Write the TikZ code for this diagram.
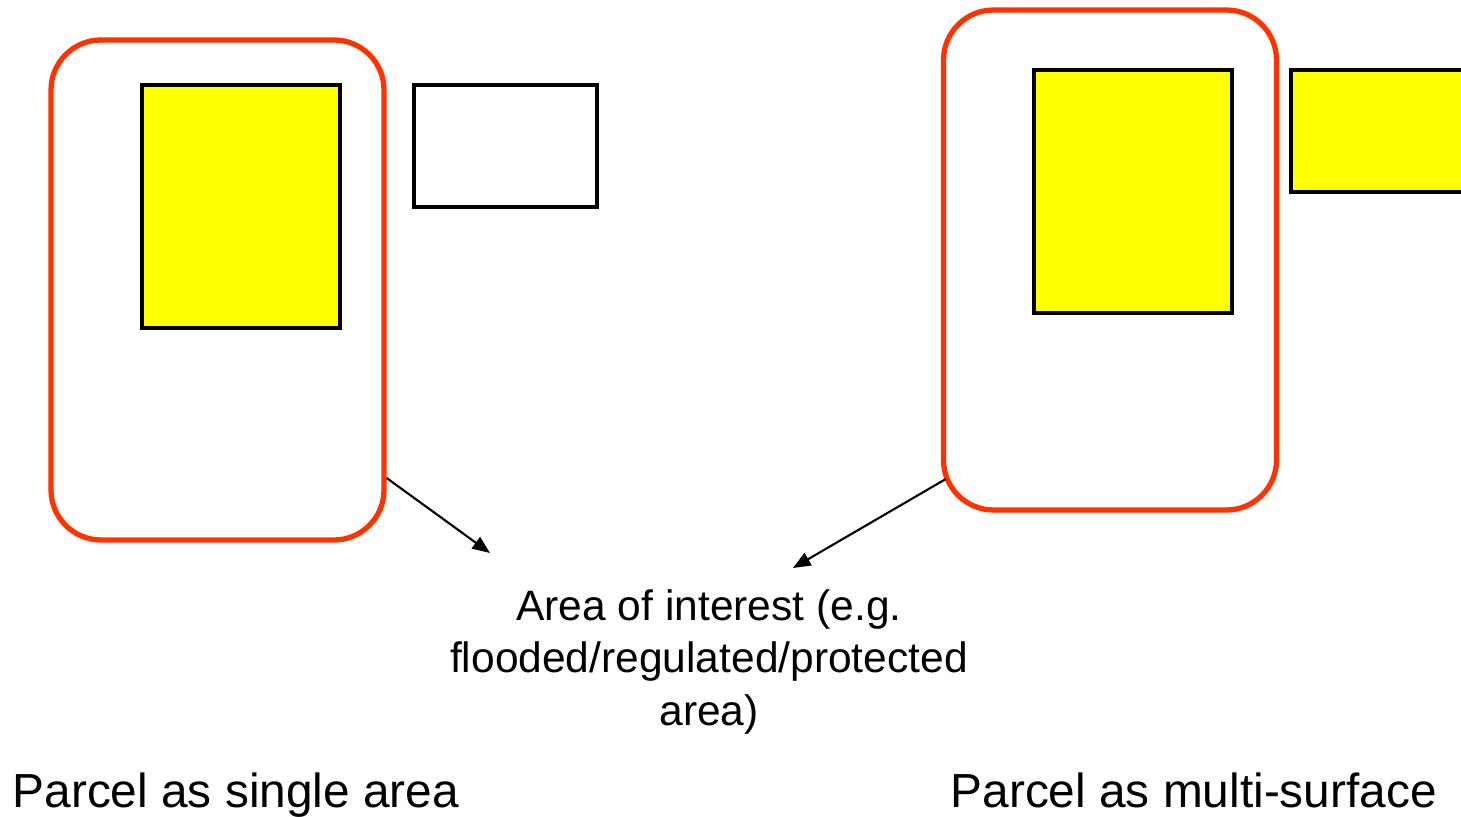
\documentclass[tikz,border=0pt]{standalone}
\usepackage{fontspec}
\setmainfont{Liberation Sans}
\usetikzlibrary{arrows.meta}
\definecolor{ParcelRed}{HTML}{FF3300}
\definecolor{AreaYellow}{HTML}{FFFF00}
\begin{document}
\begin{tikzpicture}[x=0.1mm,y=-0.1mm,>={Triangle[length=5pt,width=4pt]}]
  \tikzstyle{parcel}=[draw=ParcelRed,line width=1.5pt,rounded corners=5mm,inner sep=0pt,
    minimum width=33.3mm,minimum height=50mm]
  \tikzstyle{area}=[draw=black,line width=1pt,inner sep=0pt]
  \tikzstyle{caption}=[inner sep=0pt,font=\fontsize{13.6}{16}\selectfont]
  \clip (0,0) rectangle (1461,817);
  % single area
  \node[parcel] (single) at (217.5,290) {};
  \node[area,fill=AreaYellow,minimum width=19.8mm,minimum height=24.3mm] (singlein) at (241,206.5) {};
  \node[area,fill=white,minimum width=18.3mm,minimum height=12.2mm] (singleout) at (505.5,146) {};
  % multi-surface
  \node[parcel] (multi) at (1110,260) {};
  \node[area,fill=AreaYellow,minimum width=19.8mm,minimum height=24.3mm] (multiin) at (1133,191.5) {};
  \node[area,fill=AreaYellow,minimum width=18.3mm,minimum height=12.2mm] (multiout) at (1382.5,131) {};
  % area of interest
  \node[align=center,inner sep=0pt,font=\fontsize{12.1}{14.8}\selectfont] (interest) at (709,662)
    {Area of interest (e.g.\\flooded/regulated/protected\\area)};
  \coordinate (tipsingle) at (490,553);
  \coordinate (tipmulti) at (793,568);
  \draw[->,line width=0.6pt] ([yshift=-18.8mm]single.east)--(tipsingle);
  \draw[->,line width=0.6pt] ([xshift=0.5mm,yshift=-21.9mm]multi.west)--(tipmulti);
  % captions
  \node[caption,anchor=base west] (singlecap) at (12,808) {Parcel as single area};
  \node[caption,anchor=base west] (multicap) at (950,808) {Parcel as multi-surface};
\end{tikzpicture}
\end{document}
